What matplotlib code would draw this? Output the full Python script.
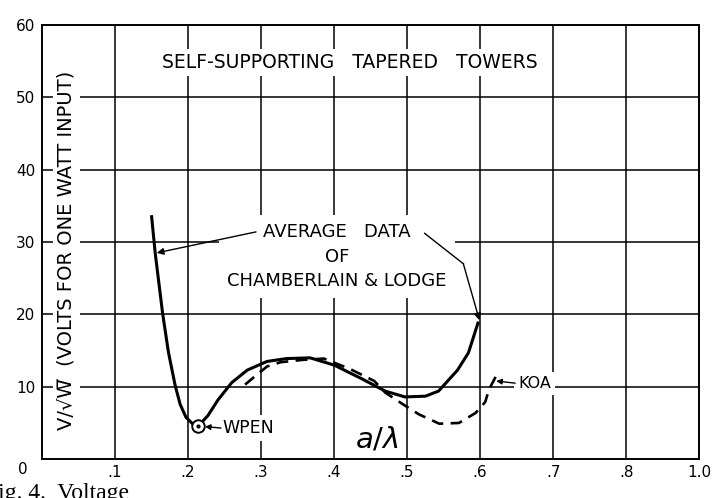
import numpy as np
import matplotlib.pyplot as plt

# average data of Chamberlain & Lodge (solid)
avg_x = [0.150, 0.155, 0.165, 0.173, 0.182, 0.189, 0.197, 0.206, 0.214, 0.227,
         0.241, 0.260, 0.281, 0.308, 0.335, 0.367, 0.400, 0.438, 0.470, 0.497,
         0.525, 0.543, 0.569, 0.584, 0.597]
avg_y = [33.5, 28.4, 20.2, 14.8, 10.3, 7.6, 5.8, 4.9, 4.6, 6.0,
         8.2, 10.6, 12.3, 13.5, 13.9, 14.0, 13.0, 11.1, 9.4, 8.6,
         8.7, 9.4, 12.3, 14.7, 18.8]

# KOA (dashed)
koa_x = [0.278, 0.291, 0.308, 0.327, 0.355, 0.386, 0.423, 0.455, 0.470, 0.494,
         0.516, 0.544, 0.571, 0.594, 0.607, 0.612, 0.624]
koa_y = [10.3, 11.4, 12.8, 13.4, 13.7, 13.9, 12.4, 10.8, 9.2, 7.6,
         6.2, 4.9, 5.0, 6.4, 7.9, 9.6, 11.9]

# WPEN point
wpen_x = 0.214
wpen_y = 4.6

x_ticks = [0.1, 0.2, 0.3, 0.4, 0.5, 0.6, 0.7, 0.8, 0.9]
x_labels = ['.1', '.2', '.3', '.4', '.5', '.6', '.7', '.8', '1.0']
y_ticks = [10, 20, 30, 40, 50, 60]
y_labels = ['10', '20', '30', '40', '50', '60']

fig = plt.figure(figsize=(7.26, 4.98), dpi=100)
ax = fig.add_axes([0.058, 0.078, 0.905, 0.872])
ax.set_xlim(0, 0.9)
ax.set_ylim(0, 60)

for s in ax.spines.values():
    s.set_linewidth(1.4)
ax.set_xticks(x_ticks, x_labels, fontsize=11)
ax.set_yticks(y_ticks, y_labels, fontsize=11)
ax.tick_params(axis='x', length=0, pad=4)
ax.tick_params(axis='y', length=0, pad=5)
ax.grid(True, color='black', lw=1.1, zorder=1)
ax.set_axisbelow(True)
ax.text(-0.026, -1.4, '0', fontsize=11, ha='center', va='center', clip_on=False)

box = dict(facecolor='white', edgecolor='none', pad=3)
arrow = dict(arrowstyle='-|>', color='black', lw=1.0, mutation_scale=10,
             shrinkA=0, shrinkB=0)

ax.plot(avg_x, avg_y, color='black', lw=2.2, zorder=4)
ax.plot(koa_x, koa_y, color='black', lw=1.9, ls=(0, (4.5, 2.8)), zorder=4)
ax.plot(wpen_x, wpen_y, 'o', ms=9, mfc='white', mec='black', mew=1.4, zorder=5)
ax.plot(wpen_x, wpen_y, 'o', ms=2, color='black', zorder=6)

ax.text(0.422, 54.8, 'SELF-SUPPORTING   TAPERED   TOWERS', fontsize=13.5,
        ha='center', va='center', bbox=box, zorder=3)

# V over root W, overline done with a combining mark so it rotates cleanly
ax.text(0.033, 28.9, 'V/\u221aW\u0305  (VOLTS FOR ONE WATT INPUT)',
        fontsize=14, rotation=90, ha='center', va='center', bbox=box, zorder=3)

ax.text(0.404, 28.0, 'AVERAGE   DATA\nOF\nCHAMBERLAIN & LODGE', fontsize=13,
        ha='center', va='center', linespacing=1.45,
        bbox=dict(facecolor='white', edgecolor='none', pad=6), zorder=3)
ax.annotate('', xy=(0.157, 28.5), xytext=(0.293, 31.4), arrowprops=arrow, zorder=5)
ax.plot([0.524, 0.577], [31.2, 27.0], color='black', lw=1.0, zorder=5)
ax.annotate('', xy=(0.599, 19.2), xytext=(0.577, 27.0), arrowprops=arrow, zorder=5)

ax.text(0.247, 4.3, 'WPEN', fontsize=12.5, ha='left', va='center', bbox=box, zorder=3)
ax.annotate('', xy=(0.223, 4.5), xytext=(0.245, 4.3),
            arrowprops=dict(arrow, mutation_scale=8), zorder=5)

ax.text(0.652, 10.5, 'KOA', fontsize=11.5, ha='left', va='center', bbox=box, zorder=3)
ax.annotate('', xy=(0.622, 10.8), xytext=(0.648, 10.5),
            arrowprops=dict(arrow, mutation_scale=8), zorder=5)

ax.text(0.458, 2.7, r'$a/\lambda$', fontsize=21, ha='center', va='center', zorder=3)

fig.text(-0.021, -0.003, 'Fig. 4.  Voltage', fontsize=17, family='Liberation Serif',
         ha='left', va='baseline')

fig.savefig('out.png', dpi=100)
